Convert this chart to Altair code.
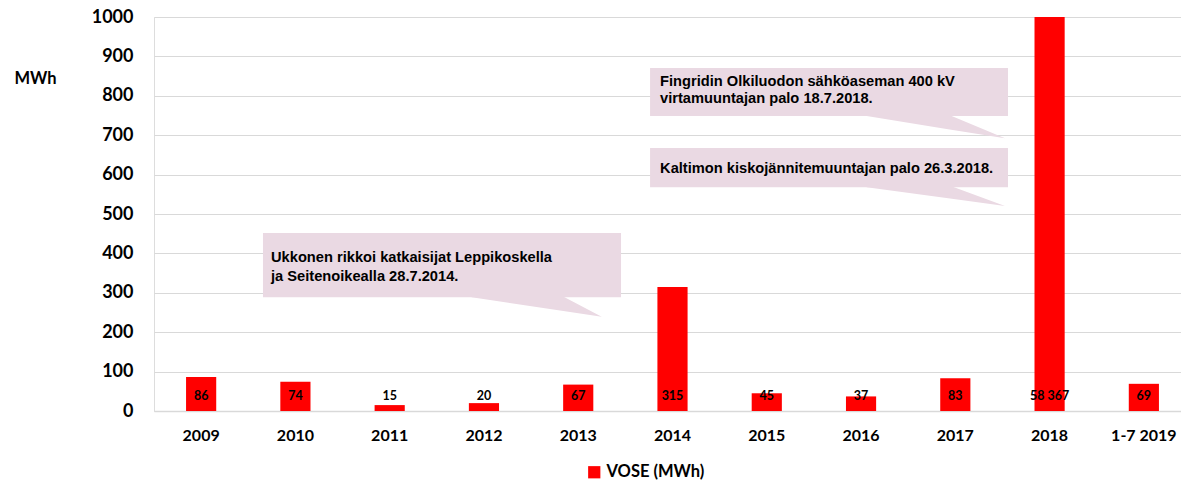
import altair as alt
import pandas as pd

# ---- data ----
years = ["2009", "2010", "2011", "2012", "2013", "2014", "2015", "2016", "2017", "2018", "1-7 2019"]
values = [86, 74, 15, 20, 67, 315, 45, 37, 83, 58367, 69]
value_labels = ["86", "74", "15", "20", "67", "315", "45", "37", "83", "58 367", "69"]
series_name = "VOSE (MWh)"
y_ticks = [0, 100, 200, 300, 400, 500, 600, 700, 800, 900, 1000]

# callout annotations (x in category-index units, y in MWh units)
note_texts = [
    "Fingridin Olkiluodon sähköaseman 400 kV\nvirtamuuntajan palo 18.7.2018.",
    "Kaltimon kiskojännitemuuntajan palo 26.3.2018.",
    "Ukkonen rikkoi katkaisijat Leppikoskella\nja Seitenoikealla 28.7.2014.",
]
note_x = [5.368, 5.368, 1.241]
note_y = [824.0, 605.0, 377.0]
box_x1 = [5.262, 5.262, 1.156]
box_x2 = [9.059, 9.059, 4.954]
box_top = [870.6, 667.5, 451.8]
box_bottom = [748.7, 567.8, 288.6]
wedge_left = [7.560, 7.560, 3.370]
wedge_right = [8.423, 8.444, 4.325]
tip_x = [9.027, 9.027, 4.749]
tip_y = [692.1, 520.3, 239.3]

# ---- tables ----
bars = pd.DataFrame({"year": years, "value": values, "label": value_labels, "series": series_name})
boxes = pd.DataFrame({"x1": box_x1, "x2": box_x2, "top": box_top, "bottom": box_bottom})
notes12 = pd.DataFrame({"x": note_x[:2], "y": note_y[:2], "t": note_texts[:2]})
notes3 = pd.DataFrame({"x": note_x[2:], "y": note_y[2:], "t": note_texts[2:]})

wrows = []
for i in range(len(tip_x)):
    L, R, B, T, TY = wedge_left[i], wedge_right[i], box_bottom[i], tip_x[i], tip_y[i]
    mid = B + (TY - B) * (R - L) / (T - L)
    wrows.append({"id": i, "wx": L, "wy": B, "wy2": B + 4})
    wrows.append({"id": i, "wx": R, "wy": mid, "wy2": B + 4})
    wrows.append({"id": i, "wx": T, "wy": TY, "wy2": TY})
wedges = pd.DataFrame(wrows)

PINK = "#EAD9E3"
XR = [0, 1037]
yscale = alt.Scale(domain=[0, 1000], clamp=True, nice=False)
xband = alt.Scale(domain=years, range=XR, paddingInner=0.68, paddingOuter=0.34)
xq = alt.Scale(domain=[0, 11], range=XR, nice=False, zero=False)

yaxis = alt.Axis(title="MWh", values=y_ticks, format="d", labelOverlap=False, grid=True,
                 gridColor="#D9D9D9", gridWidth=1, domain=False, ticks=False, tickSize=0,
                 labelFont="Lato", labelFontWeight="bold", labelFontSize=18,
                 labelColor="#000000", labelPadding=21,
                 titleAngle=0, titleX=-119, titleY=61, titleAlign="center",
                 titleBaseline="middle", titleFont="Lato", titleFontSize=16.5,
                 titleFontWeight="bold", titleColor="#000000")

bar = alt.Chart(bars).mark_bar(color="#FF0000").encode(
    x=alt.X("year:N", scale=xband, sort=years,
            axis=alt.Axis(title=None, labelAngle=0, labelFont="Lato", labelFontWeight="bold",
                          labelFontSize=16, labelColor="#000000", ticks=False, tickSize=0,
                          labelPadding=24, labelBaseline="middle",
                          domainColor="#D9D9D9", domainWidth=1.5)),
    y=alt.Y("value:Q", scale=yscale, axis=yaxis),
    color=alt.Color("series:N", scale=alt.Scale(range=["#FF0000"]),
                    legend=alt.Legend(title=None, orient="none", legendX=432, legendY=447,
                                      symbolType="square", symbolSize=150, symbolStrokeWidth=0,
                                      labelFont="Lato", labelFontWeight="bold", labelFontSize=16.5,
                                      labelColor="#000000", padding=0, labelOffset=4)),
)

lbl = alt.Chart(bars).mark_text(font="Lato", fontWeight="bold", fontSize=12.5, color="#000000",
                                baseline="middle", align="center").encode(
    x=alt.X("year:N", scale=xband, sort=years, axis=None),
    y=alt.value(379),
    text="label:N",
)

box = alt.Chart(boxes).mark_rect(color=PINK).encode(
    x=alt.X("x1:Q", scale=xq, axis=None), x2="x2:Q",
    y=alt.Y("top:Q", scale=yscale, axis=yaxis), y2="bottom:Q",
)

wedge = alt.Chart(wedges).mark_area(color=PINK, opacity=1).encode(
    x=alt.X("wx:Q", scale=xq, axis=None),
    y=alt.Y("wy:Q", scale=yscale, axis=yaxis), y2="wy2:Q",
    detail="id:N",
)

txt12 = alt.Chart(notes12).mark_text(font="Liberation Sans", fontWeight="bold", fontSize=14.67,
                                     color="#000000", align="left", baseline="alphabetic",
                                     lineBreak="\n", lineHeight=17).encode(
    x=alt.X("x:Q", scale=xq, axis=None), y=alt.Y("y:Q", scale=yscale, axis=yaxis), text="t:N")

txt3 = alt.Chart(notes3).mark_text(font="Liberation Sans", fontWeight="bold", fontSize=14.67,
                                   color="#000000", align="left", baseline="alphabetic",
                                   lineBreak="\n", lineHeight=19).encode(
    x=alt.X("x:Q", scale=xq, axis=None), y=alt.Y("y:Q", scale=yscale, axis=yaxis), text="t:N")

chart = alt.layer(bar, lbl, box, wedge, txt12, txt3).resolve_scale(x="independent").properties(
    width=1027, height=394, autosize="none",
    padding={"left": 154, "top": 17, "right": 0, "bottom": 71},
).configure_view(stroke=None).configure(background="#FFFFFF")

chart.save("out.html", embed_options={"renderer": "svg", "actions": False})
